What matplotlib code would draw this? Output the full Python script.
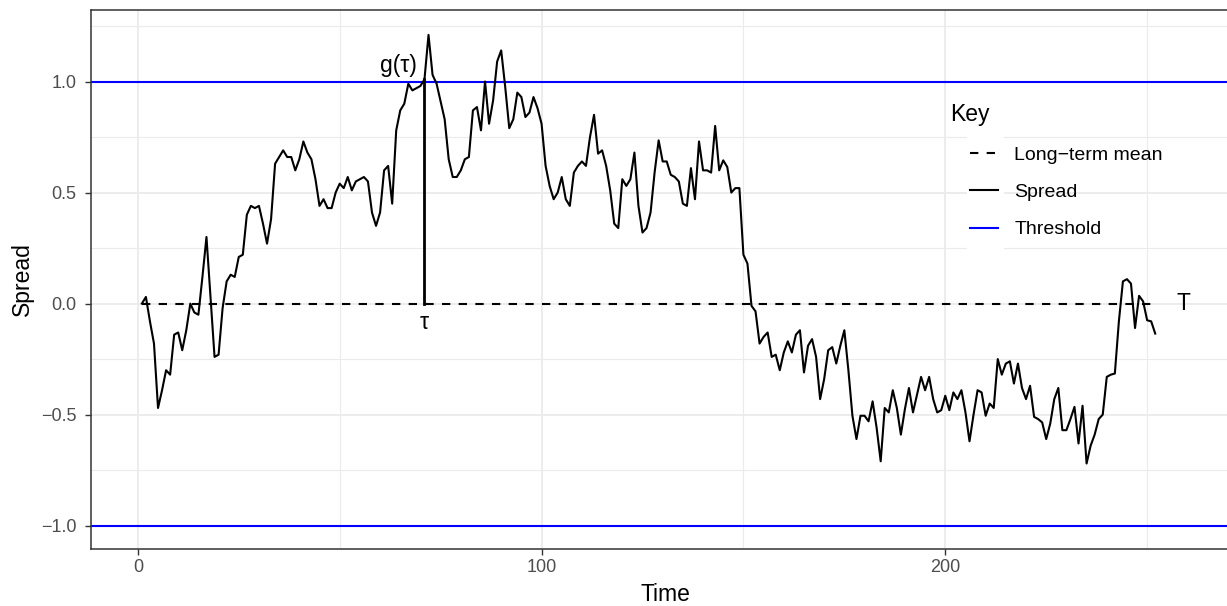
import numpy as np
import matplotlib
matplotlib.use("Agg")
import matplotlib.pyplot as plt
from matplotlib.lines import Line2D
from matplotlib.patches import Rectangle
from matplotlib.ticker import MultipleLocator

plt.rcParams["font.family"] = ["Liberation Sans", "DejaVu Sans"]

#### DATA ####
# spread values, one per time step
spread = [
    0.00, 0.03, -0.08, -0.18, -0.47, -0.39, -0.30, -0.32, -0.14, -0.13,
    -0.21, -0.12, 0.00, -0.04, -0.05, 0.12, 0.30, 0.03, -0.24, -0.23,
    -0.02, 0.10, 0.13, 0.12, 0.21, 0.22, 0.40, 0.44, 0.43, 0.44,
    0.36, 0.27, 0.38, 0.63, 0.66, 0.69, 0.66, 0.66, 0.60, 0.65,
    0.73, 0.68, 0.65, 0.56, 0.44, 0.47, 0.43, 0.43, 0.50, 0.54,
    0.52, 0.57, 0.51, 0.55, 0.56, 0.57, 0.55, 0.41, 0.35, 0.41,
    0.60, 0.62, 0.45, 0.78, 0.87, 0.90, 0.99, 0.96, 0.97, 0.98,
    1.01, 1.21, 1.03, 0.99, 0.91, 0.83, 0.65, 0.57, 0.57, 0.60,
    0.65, 0.66, 0.87, 0.885, 0.78, 1.00, 0.81, 0.915, 1.09, 1.14,
    0.975, 0.79, 0.83, 0.95, 0.93, 0.84, 0.86, 0.93, 0.88, 0.81,
    0.62, 0.53, 0.47, 0.50, 0.57, 0.47, 0.44, 0.59, 0.62, 0.64,
    0.62, 0.75, 0.85, 0.675, 0.69, 0.62, 0.51, 0.36, 0.34, 0.56,
    0.53, 0.56, 0.68, 0.44, 0.32, 0.34, 0.41, 0.59, 0.735, 0.64,
    0.64, 0.58, 0.57, 0.55, 0.45, 0.44, 0.61, 0.47, 0.73, 0.60,
    0.60, 0.59, 0.80, 0.60, 0.645, 0.615, 0.50, 0.52, 0.52, 0.22,
    0.18, -0.01, -0.035, -0.18, -0.15, -0.13, -0.24, -0.23, -0.30, -0.22,
    -0.17, -0.22, -0.14, -0.12, -0.31, -0.19, -0.16, -0.24, -0.43, -0.34,
    -0.21, -0.196, -0.27, -0.19, -0.12, -0.30, -0.505, -0.61, -0.505, -0.505,
    -0.53, -0.44, -0.56, -0.71, -0.47, -0.49, -0.39, -0.47, -0.59, -0.475,
    -0.38, -0.49, -0.41, -0.33, -0.39, -0.33, -0.43, -0.49, -0.48, -0.415,
    -0.48, -0.40, -0.43, -0.39, -0.49, -0.62, -0.50, -0.39, -0.40, -0.505,
    -0.45, -0.47, -0.25, -0.32, -0.27, -0.26, -0.36, -0.27, -0.38, -0.43,
    -0.37, -0.51, -0.52, -0.535, -0.61, -0.54, -0.43, -0.38, -0.57, -0.57,
    -0.52, -0.465, -0.63, -0.46, -0.72, -0.64, -0.59, -0.52, -0.50, -0.33,
    -0.32, -0.315, -0.08, 0.10, 0.11, 0.09, -0.11, 0.035, 0.01, -0.075,
    -0.08, -0.135,
]
time = np.arange(1, len(spread) + 1)

long_term_mean = 0.0
threshold = 1.0
tau = 71          # first time the spread goes past the threshold
end_label_x = 259  # where the "T" label sits
#### END ####

fig = plt.figure(figsize=(12.27, 6.06), dpi=100)
# panel runs a bit past the right edge of the picture, as in the original
ax = fig.add_axes([91 / 1227, 57 / 606, 1149 / 1227, 539 / 606])

ax.set_xlim(-11.6, 273.0)
ax.set_ylim(-1.105, 1.322)

# theme_bw-like grid
ax.xaxis.set_major_locator(MultipleLocator(100))
ax.xaxis.set_minor_locator(MultipleLocator(50))
ax.yaxis.set_major_locator(MultipleLocator(0.5))
ax.yaxis.set_minor_locator(MultipleLocator(0.25))
ax.grid(which="major", color="#EBEBEB", linewidth=1.3)
ax.grid(which="minor", color="#EBEBEB", linewidth=0.8)
ax.set_axisbelow(True)
for s in ax.spines.values():
    s.set_color("#333333")
    s.set_linewidth(1.1)
ax.tick_params(which="major", length=4.0, width=1.0, color="#333333",
               labelsize=13, labelcolor="#4D4D4D", pad=3)
ax.tick_params(axis="y", which="major", pad=6.5)
ax.tick_params(which="minor", length=0)
ax.yaxis.set_major_formatter(plt.FuncFormatter(lambda v, p: f"{v:.1f}".replace("-", "\u2212")))

# thresholds
ax.axhline(threshold, color="#0000FF", linewidth=1.5, zorder=2)
ax.axhline(-threshold, color="#0000FF", linewidth=1.5, zorder=2)

# long-term mean
ax.plot([time[0], time[-1]], [long_term_mean, long_term_mean], color="black",
        linewidth=1.5, linestyle=(0, (4, 4)), zorder=3)

# spread
ax.plot(time, spread, color="black", linewidth=1.5, zorder=4)

# g(tau) stick
g_tau = spread[tau - 1]
ax.plot([tau, tau], [long_term_mean, g_tau], color="black", linewidth=2.0, zorder=5)
ax.text(tau - 6.5, g_tau + 0.06, "g(\u03c4)", ha="center", va="center", fontsize=16.5)
ax.text(tau, long_term_mean - 0.085, "\u03c4", ha="center", va="center", fontsize=16.5)
ax.text(end_label_x, long_term_mean, "T", ha="center", va="center", fontsize=16.5)

ax.set_xlabel("Time", fontsize=16.5, labelpad=5)
ax.set_ylabel("Spread", fontsize=16.5, labelpad=5)

# legend: white key column, title sits a little left of the keys
ax.add_patch(Rectangle((0.7624, 0.555), 0.0322, 0.214, transform=ax.transAxes,
                       facecolor="white", edgecolor="none", zorder=1.5))
ax.text(0.7476, 0.807, "Key", transform=ax.transAxes, ha="left", va="center",
        fontsize=16.5)
handles = [
    Line2D([], [], color="black", linewidth=1.5, linestyle=(0, (4, 4))),
    Line2D([], [], color="black", linewidth=1.5),
    Line2D([], [], color="#0000FF", linewidth=1.5),
]
leg = ax.legend(handles, ["Long\u2212term mean", "Spread", "Threshold"],
                loc="upper left", bbox_to_anchor=(0.758, 0.761), frameon=False,
                fontsize=14, handlelength=1.45, borderaxespad=0,
                handletextpad=0.85, labelspacing=1.0)

fig.savefig("out.png", dpi=100)
